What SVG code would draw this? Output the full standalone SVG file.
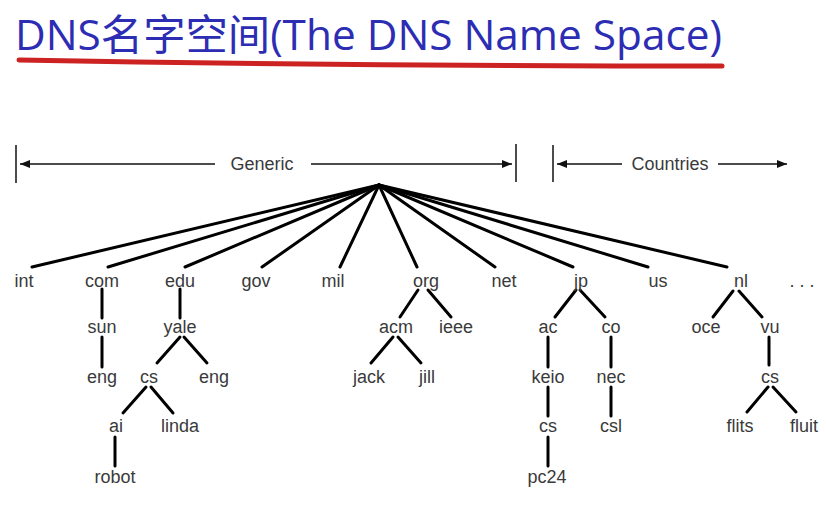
<svg xmlns="http://www.w3.org/2000/svg" width="826" height="511" viewBox="0 0 826 511">
  <defs>
    <marker id="head" viewBox="0 0 10 8" refX="10" refY="4" markerWidth="10" markerHeight="8" markerUnits="userSpaceOnUse" orient="auto-start-reverse">
      <path d="M0,0 L10,4 L0,8 Z" fill="#111"/>
    </marker>
  </defs>
  <style>
    .title { font-family: "Open Sans", "Noto Sans CJK SC", sans-serif; font-size: 42px; fill: #2d2db4; }
    .lbl { font-family: "Liberation Sans", Arial, sans-serif; font-size: 18px; fill: #3a3a3a; text-anchor: middle; }
    .range { font-family: "Liberation Sans", Arial, sans-serif; font-size: 18px; fill: #3a3a3a; text-anchor: middle; }
    .bar { stroke: #111; stroke-width: 1.5; fill: none; }
    .edge { stroke: #000; stroke-width: 3; stroke-linecap: round; fill: none; }
  </style>

  <rect width="826" height="511" fill="#fff"/>

  <!-- heading -->
  <g id="heading">
    <text class="title" x="15" y="50" textLength="707" lengthAdjust="spacingAndGlyphs">DNS名字空间(The DNS Name Space)</text>
    <path d="M19,60 Q360,66 722,66" stroke="#cc2222" stroke-width="5" stroke-linecap="round" fill="none"/>
  </g>

  <!-- domain ranges -->
  <g id="ranges">
    <line class="bar" x1="16" y1="145" x2="16" y2="183"/>
    <line class="bar" x1="516" y1="144" x2="516" y2="182"/>
    <line class="bar" x1="553" y1="145" x2="553" y2="182"/>
    <line class="bar" x1="215" y1="164" x2="20" y2="164" marker-end="url(#head)"/>
    <line class="bar" x1="311" y1="164" x2="512" y2="164" marker-end="url(#head)"/>
    <line class="bar" x1="622" y1="164" x2="557" y2="164" marker-end="url(#head)"/>
    <line class="bar" x1="718" y1="164" x2="787" y2="164" marker-end="url(#head)"/>
    <text class="range" x="262" y="170">Generic</text>
    <text class="range" x="670" y="170">Countries</text>
  </g>

  <!-- tree edges -->
  <g id="connectors" class="edge">
    <line x1="379" y1="185" x2="32" y2="267"/>
    <line x1="379" y1="185" x2="108" y2="267"/>
    <line x1="379" y1="185" x2="185" y2="267"/>
    <line x1="379" y1="185" x2="262" y2="267"/>
    <line x1="379" y1="185" x2="340" y2="267"/>
    <line x1="379" y1="185" x2="417" y2="267"/>
    <line x1="379" y1="185" x2="495" y2="267"/>
    <line x1="379" y1="185" x2="573" y2="267"/>
    <line x1="379" y1="185" x2="648" y2="267"/>
    <line x1="379" y1="185" x2="727" y2="267"/>

    <line x1="102" y1="289" x2="102" y2="318"/>
    <line x1="102" y1="337" x2="102" y2="367"/>
    <line x1="180" y1="289" x2="180" y2="318"/>
    <line x1="180" y1="337" x2="157" y2="363"/>
    <line x1="184" y1="337" x2="207" y2="363"/>
    <line x1="146" y1="387" x2="123" y2="413"/>
    <line x1="151" y1="387" x2="173" y2="413"/>
    <line x1="115" y1="437" x2="115" y2="466"/>

    <line x1="418" y1="290" x2="400" y2="317"/>
    <line x1="428" y1="290" x2="451" y2="317"/>
    <line x1="393" y1="337" x2="371" y2="363"/>
    <line x1="398" y1="337" x2="421" y2="363"/>

    <line x1="576" y1="290" x2="555" y2="317"/>
    <line x1="580" y1="290" x2="605" y2="317"/>
    <line x1="548" y1="337" x2="548" y2="367"/>
    <line x1="548" y1="387" x2="548" y2="416"/>
    <line x1="548" y1="437" x2="548" y2="466"/>
    <line x1="611" y1="337" x2="611" y2="367"/>
    <line x1="611" y1="387" x2="611" y2="416"/>

    <line x1="733" y1="291" x2="713" y2="317"/>
    <line x1="739" y1="291" x2="762" y2="317"/>
    <line x1="769" y1="337" x2="769" y2="365"/>
    <line x1="768" y1="387" x2="747" y2="412"/>
    <line x1="773" y1="387" x2="796" y2="412"/>
  </g>

  <!-- top-level domains -->
  <g id="int"><text class="lbl" x="24" y="287">int</text></g>
  <g id="com"><text class="lbl" x="102" y="287">com</text></g>
  <g id="edu"><text class="lbl" x="180" y="287">edu</text></g>
  <g id="gov"><text class="lbl" x="256" y="287">gov</text></g>
  <g id="mil"><text class="lbl" x="333" y="287">mil</text></g>
  <g id="org"><text class="lbl" x="426" y="287">org</text></g>
  <g id="net"><text class="lbl" x="504" y="287">net</text></g>
  <g id="jp"><text class="lbl" x="581" y="287">jp</text></g>
  <g id="us"><text class="lbl" x="658" y="287">us</text></g>
  <g id="nl"><text class="lbl" x="741" y="287">nl</text></g>
  <g id="more"><text class="lbl" x="802" y="287">. . .</text></g>

  <!-- second level -->
  <g id="sun"><text class="lbl" x="102" y="333">sun</text></g>
  <g id="yale"><text class="lbl" x="180" y="333">yale</text></g>
  <g id="acm"><text class="lbl" x="396" y="333">acm</text></g>
  <g id="ieee"><text class="lbl" x="456" y="333">ieee</text></g>
  <g id="ac"><text class="lbl" x="548" y="333">ac</text></g>
  <g id="co"><text class="lbl" x="611" y="333">co</text></g>
  <g id="oce"><text class="lbl" x="706" y="333">oce</text></g>
  <g id="vu"><text class="lbl" x="770" y="333">vu</text></g>

  <!-- third level -->
  <g id="sun-eng"><text class="lbl" x="102" y="383">eng</text></g>
  <g id="yale-cs"><text class="lbl" x="149" y="383">cs</text></g>
  <g id="yale-eng"><text class="lbl" x="214" y="383">eng</text></g>
  <g id="jack"><text class="lbl" x="369" y="383">jack</text></g>
  <g id="jill"><text class="lbl" x="427" y="383">jill</text></g>
  <g id="keio"><text class="lbl" x="548" y="383">keio</text></g>
  <g id="nec"><text class="lbl" x="611" y="383">nec</text></g>
  <g id="vu-cs"><text class="lbl" x="770" y="383">cs</text></g>

  <!-- fourth level -->
  <g id="ai"><text class="lbl" x="116" y="432">ai</text></g>
  <g id="linda"><text class="lbl" x="180" y="432">linda</text></g>
  <g id="keio-cs"><text class="lbl" x="548" y="432">cs</text></g>
  <g id="csl"><text class="lbl" x="611" y="432">csl</text></g>
  <g id="flits"><text class="lbl" x="740" y="432">flits</text></g>
  <g id="fluit"><text class="lbl" x="804" y="432">fluit</text></g>

  <!-- fifth level -->
  <g id="robot"><text class="lbl" x="115" y="483">robot</text></g>
  <g id="pc24"><text class="lbl" x="547" y="483">pc24</text></g>
</svg>
